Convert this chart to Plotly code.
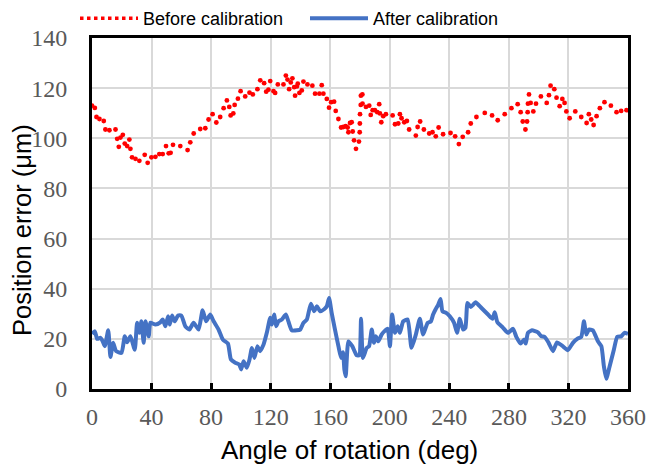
import plotly.graph_objects as go

# Before calibration (red dots)
before_x = [0, 1.9, 3.0, 5.0, 7.9, 9.0, 11.7, 15.8, 16.9, 18.0, 19.1, 20.7, 22.0, 23.6, 25.1, 25.8, 26.9,
            29.2, 31.8, 35.4, 37.4, 39.9, 42.6, 45.2, 47.5, 49.7, 51.5, 52.8, 54.4, 59.3, 64.2, 66.0,
            68.3, 72.7, 76.1, 78.3, 81.0, 83.5, 86.1, 88.4, 90.6, 92.2, 93.1, 94.9, 95.8, 98.0, 99.8,
            102.9, 105.8, 108.0, 111.1, 113.0, 115.6, 117.0, 118.5, 119.7,
            121.9, 123.0, 124.8, 128.6, 130.2, 131.3, 132.4, 133.5, 134.6, 135.8, 136.4, 137.6, 138.2,
            139.3, 140.9, 142.0, 144.7, 148.0, 149.8, 152.7, 154.3, 155.4, 157.7, 159.2, 160.6, 162.6,
            163.7, 165.5, 167.3, 168.8, 170.4, 171.7, 172.2, 173.3, 174.4, 175.1, 176.0, 177.3, 179.3,
            179.8, 179.9, 180.0, 180.5, 180.6, 181.6, 181.7, 184.0, 186.2, 187.2, 188.5, 190.0, 191.6,
            192.9, 193.4, 194.3, 195.6, 197.4, 201.9, 203.5, 205.7, 206.8, 207.9, 209.7, 211.5, 213.0,
            217.5, 218.7, 220.4, 222.9, 226.5, 228.7, 230.9, 232.8, 235.8,
            240.8, 243.9, 246.4, 249.0, 252.6, 254.4, 258.2, 263.8, 268.7, 272.5, 277.2, 281.7, 285.9,
            287.9, 289.3, 291.1, 292.2, 292.6, 292.8, 293.5, 294.6, 296.4, 298.2, 301.5, 305.4, 306.9,
            308.0, 310.5, 312.0, 314.1, 315.9, 317.4, 318.6, 320.8, 324.6, 328.6, 332.2, 333.7, 335.3,
            336.9, 338.9, 341.1, 344.2, 348.5, 352.3, 355.4, 359.0]
before_y = [113.0, 112.1, 108.5, 107.7, 106.9, 103.5, 103.2, 103.5, 99.8, 96.6, 100.3, 101.4, 97.9, 96.9, 99.5, 95.8, 92.4,
            91.8, 91.0, 93.4, 90.2, 92.4, 92.6, 93.7, 93.7, 96.9, 94.0, 94.2, 97.4, 96.9, 95.3, 98.4,
            101.9, 103.7, 104.0, 107.5, 109.6, 106.3, 108.5, 112.0, 115.1, 112.5, 109.1, 109.9, 113.3, 115.8, 118.8,
            116.7, 118.2, 117.5, 119.6, 123.1, 122.0, 118.6, 119.4, 122.8,
            118.8, 118.1, 121.5, 121.5, 125.0, 123.4, 119.6, 122.3, 123.9, 120.4, 117.0, 120.7, 121.8,
            118.1, 119.1, 122.6, 121.5, 121.0, 117.8, 117.8, 121.2, 117.8, 115.7, 112.2, 114.4, 114.6,
            110.9, 107.7, 104.3, 104.5, 104.8, 104.3, 102.4, 106.1, 106.4, 102.7, 99.2, 95.8, 98.7,
            102.4, 105.9, 109.6, 113.3, 117.0, 117.5, 113.8, 112.5, 113.0, 109.3, 111.2, 111.2, 110.4,
            113.6, 109.9, 106.4, 108.8, 109.6, 109.1, 105.6, 105.9, 109.6, 108.0, 106.4, 106.9, 103.5,
            101.1, 104.5, 106.7, 103.5, 101.9, 102.4, 100.8, 104.3, 101.6,
            102.1, 100.8, 97.7, 100.6, 102.4, 105.9, 108.5, 110.1, 109.1, 107.2, 109.6, 112.0, 113.6,
            110.4, 106.7, 103.5, 106.7, 110.4, 113.8, 117.5, 114.1, 110.7, 113.8, 116.7, 114.1, 117.2,
            121.0, 119.6, 116.2, 112.8, 115.7, 114.1, 110.7, 108.0, 110.7, 108.5, 106.1, 109.6, 107.5,
            105.3, 108.8, 112.0, 114.4, 113.0, 110.4, 110.9, 111.2]

# After calibration (blue line)
after_x = [0, 1.9, 3.5, 5.7, 7.2, 8.6, 10.9, 12.4, 14.2, 16.2, 19.8, 22.0, 23.6, 25.8, 28.7, 30.3, 31.8,
           33.2, 34.7, 35.9, 38.1, 39.2, 42.6, 45.9, 47.5, 49.3, 51.1, 52.2, 53.8, 55.5, 57.8, 60.0,
           62.7, 65.4, 68.2, 71.6, 74.3, 76.6, 79.4, 81.7, 85.0, 87.9, 91.3, 93.3, 96.2, 98.9, 100.2,
           101.8, 104.0, 105.8, 107.4, 109.1, 111.1, 112.9, 115.2, 117.4, 119.7,
           120.8, 122.3, 123.7, 125.2, 127.5, 130.2, 131.9, 134.2, 137.6, 139.8, 142.0, 144.3, 147.0,
           149.2, 151.0, 153.2, 156.1, 157.7, 159.2, 161.0, 163.2, 165.5, 167.3, 168.6, 169.5, 170.4,
           172.2, 174.8, 177.8, 179.5, 180.7, 182.0, 184.5, 186.1, 187.9, 189.4, 190.7, 192.3, 194.5,
           196.3, 198.6, 200.1, 201.6, 203.5, 205.3, 206.8, 209.0, 212.0, 214.6, 217.5, 220.2, 222.4,
           225.4, 227.6, 229.1, 230.9, 232.5, 234.1, 235.4, 238.1,
           240.3, 243.2, 245.2, 247.0, 249.3, 250.8, 252.2, 254.4, 256.0, 257.6, 261.6, 266.0, 269.0,
           270.5, 272.3, 276.1, 279.4, 282.8, 285.0, 287.9, 290.2, 291.3, 292.8, 295.5, 299.5, 301.8,
           304.0, 306.7, 309.6, 312.3, 315.7, 319.6, 323.0, 325.9, 328.6, 330.4, 332.0, 333.7, 336.4,
           339.8, 342.1, 343.8, 345.4, 347.6, 350.5, 352.8, 355.4, 357.6, 360.0]
after_y = [22.0, 23.0, 20.0, 20.4, 19.0, 17.1, 23.4, 12.8, 18.4, 15.1, 14.4, 21.0, 18.6, 21.0, 15.7, 26.4, 22.4,
           27.0, 18.4, 27.0, 21.0, 26.4, 25.7, 26.6, 27.7, 25.0, 29.0, 25.7, 29.3, 27.0, 29.3, 29.3,
           25.0, 23.7, 26.4, 23.7, 31.4, 27.0, 29.7, 27.0, 23.7, 19.7, 18.1, 11.8, 10.5, 9.8, 7.8,
           11.1, 8.5, 11.8, 16.4, 12.4, 17.1, 15.1, 17.7, 22.4, 28.4,
           25.7, 29.7, 25.0, 27.0, 27.7, 29.7, 27.0, 23.4, 23.4, 23.7, 26.4, 27.7, 34.0,
           31.0, 33.0, 31.0, 31.9, 33.0, 36.3, 30.3, 23.7, 17.1, 12.4, 14.7, 7.8, 5.1,
           19.0, 17.1, 13.4, 13.4, 28.0, 12.4, 16.4, 17.1, 23.7, 18.4, 21.0, 19.0, 21.7,
           23.0, 24.0, 17.1, 29.7, 22.4, 25.0, 22.4, 27.0, 27.7, 16.4, 21.7, 28.0, 21.7,
           26.4, 27.0, 29.7, 31.9, 33.6, 35.9, 31.0, 30.3,
           29.0, 26.4, 22.4, 28.0, 23.7, 24.4, 34.3, 32.7, 33.6, 34.6, 32.3, 29.7, 28.0,
           30.6, 26.6, 24.4, 22.4, 24.0, 20.8, 18.1, 19.7, 18.1, 22.4, 23.4, 22.6, 21.0,
           20.8, 18.4, 15.1, 18.6, 17.3, 15.5, 18.4, 20.0, 20.8, 27.0, 21.7, 23.7, 23.4,
           19.0, 17.1, 9.1, 4.1, 8.9, 15.7, 20.8, 21.0, 22.4, 22.0]

x_ticks = [0, 40, 80, 120, 160, 200, 240, 280, 320, 360]
y_ticks = [0, 20, 40, 60, 80, 100, 120, 140]
x_title = "Angle of rotation (deg)"
y_title = "Position error (μm)"

RED = "#FF0000"
BLUE = "#4472C4"

fig = go.Figure()
fig.add_trace(go.Scatter(x=after_x, y=after_y, mode="lines", showlegend=False,
                         line=dict(color=BLUE, width=4, shape="spline", smoothing=0.5)))
fig.add_trace(go.Scatter(x=before_x, y=before_y, mode="markers", showlegend=False,
                         marker=dict(color=RED, size=4.8)))
# legend entries
fig.add_trace(go.Scatter(x=[None], y=[None], mode="lines", name="Before calibration",
                         line=dict(color=RED, width=3.5, dash="dot")))
fig.add_trace(go.Scatter(x=[None], y=[None], mode="lines", name="After calibration",
                         line=dict(color=BLUE, width=4)))

axis_common = dict(showline=True, linecolor="black", linewidth=3, mirror=True,
                   showgrid=True, gridcolor="#D9D9D9", gridwidth=2, zeroline=False,
                   tickfont=dict(family="Liberation Serif", size=24, color="#595959"))

fig.update_xaxes(range=[0, 360], tickvals=x_ticks, ticktext=[str(v) for v in x_ticks],
                 ticks="inside", ticklen=6, tickwidth=3, tickcolor="black",
                 ticklabelstandoff=4, **axis_common)
fig.update_yaxes(range=[0, 140], tickvals=y_ticks, ticktext=[str(v) for v in y_ticks],
                 ticks="", ticklabelstandoff=17, **axis_common)

title_font = dict(family="Liberation Sans", size=26, color="black")
fig.add_annotation(text=x_title, xref="paper", yref="paper", x=0.4795, y=-0.174,
                   xanchor="center", yanchor="middle", showarrow=False, font=title_font)
fig.add_annotation(text=y_title, xref="paper", yref="paper", x=-0.1294, y=0.452,
                   xanchor="center", yanchor="middle", showarrow=False, textangle=-90,
                   font=dict(family="Liberation Sans", size=25.5, color="black"))

fig.update_layout(
    width=646, height=465,
    margin=dict(l=92, r=18, t=38, b=76, autoexpand=False),
    plot_bgcolor="white", paper_bgcolor="white",
    legend=dict(orientation="h", x=75 / 646, xanchor="left", y=1.0, yanchor="top",
                xref="container", yref="container", itemwidth=58, entrywidth=157,
                font=dict(family="Liberation Sans", size=18, color="black"),
                bgcolor="rgba(0,0,0,0)"),
)

fig.write_html("out.html", config={"displayModeBar": False},
               post_script="document.body.style.margin='0';")
